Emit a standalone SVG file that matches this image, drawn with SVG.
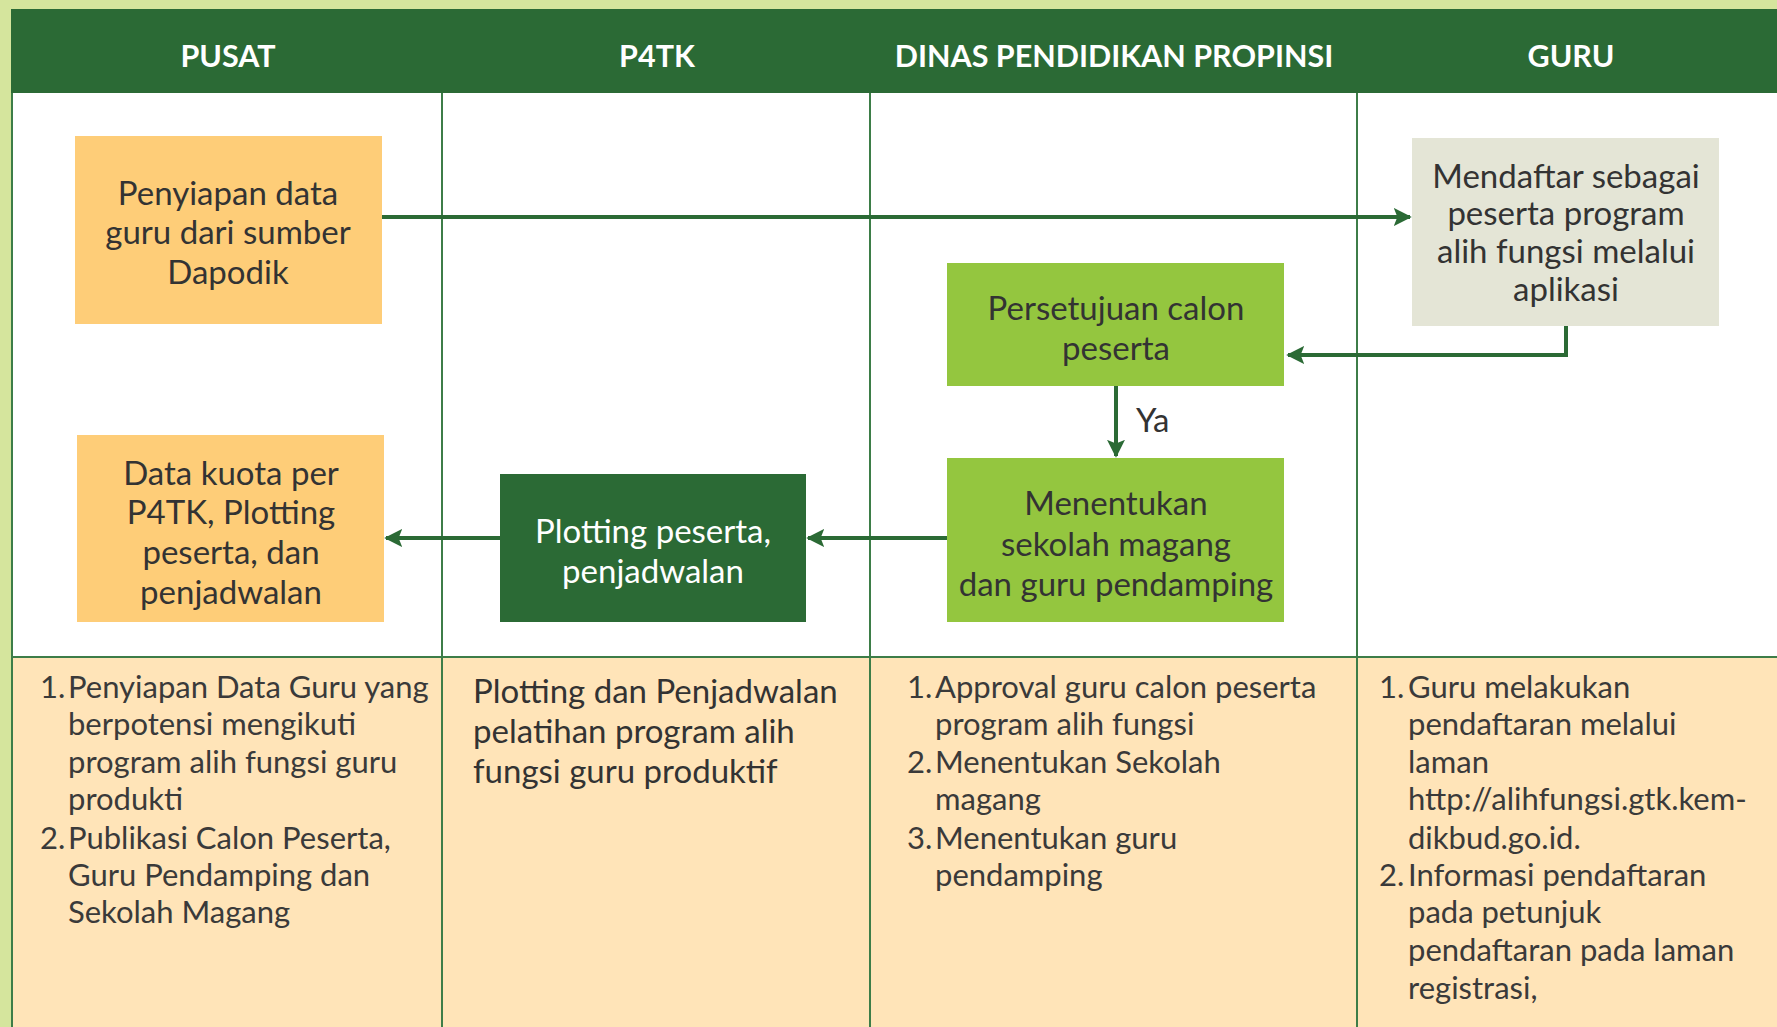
<svg xmlns="http://www.w3.org/2000/svg" width="1777" height="1027" viewBox="0 0 1777 1027">
<defs>
<style>
.hdr{font-family:Lato,"Liberation Sans",sans-serif;font-weight:700;font-size:30.5px;fill:#ffffff;text-anchor:middle}
.bx{font-family:Lato,"Liberation Sans",sans-serif;font-size:33px;fill:#333333;text-anchor:middle}
.bxw{font-family:Lato,"Liberation Sans",sans-serif;font-size:33px;fill:#ffffff;text-anchor:middle}
.nt{font-family:Lato,"Liberation Sans",sans-serif;font-size:31px;fill:#3a3a3a}
.nt2{font-family:Lato,"Liberation Sans",sans-serif;font-size:33px;fill:#333333}
.lane{stroke:#3d7d48;stroke-width:2;fill:none}
.con{stroke:#2b6a35;stroke-width:4;fill:none}
</style>
<marker id="ah" viewBox="0 0 10 10" refX="9" refY="5" markerWidth="4.5" markerHeight="4.5" orient="auto" markerUnits="strokeWidth">
<path d="M0,0 L10,5 L0,10 L2,5 Z" fill="#2b6a35"/>
</marker>
</defs>
<rect x="0" y="0" width="1777" height="1027" fill="#d5e59d"/>
<rect x="11" y="93" width="1766" height="564" fill="#ffffff"/>
<rect x="11" y="657" width="1766" height="370" fill="#ffe4b8"/>
<rect id="header" x="11" y="9" width="1766" height="84" fill="#2b6a35"/>
<g id="lanes">
<line class="lane" x1="442" y1="93" x2="442" y2="1027"/>
<line class="lane" x1="870" y1="93" x2="870" y2="1027"/>
<line class="lane" x1="1357" y1="93" x2="1357" y2="1027"/>
<line class="lane" x1="11" y1="657" x2="1777" y2="657"/>
<line class="lane" x1="12" y1="93" x2="12" y2="1027"/>
</g>
<g id="titles">
<text class="hdr" x="228" y="67">PUSAT</text>
<text class="hdr" x="657" y="67">P4TK</text>
<text class="hdr" x="1114" y="67">DINAS PENDIDIKAN PROPINSI</text>
<text class="hdr" x="1571" y="67">GURU</text>
</g>
<g id="connectors">
<line class="con" x1="382" y1="217" x2="1410" y2="217" marker-end="url(#ah)"/>
<polyline class="con" points="1566,326 1566,355 1288,355" marker-end="url(#ah)"/>
<line class="con" x1="1116" y1="386" x2="1116" y2="456" marker-end="url(#ah)"/>
<line class="con" x1="947" y1="538" x2="808" y2="538" marker-end="url(#ah)"/>
<line class="con" x1="500" y1="538" x2="386" y2="538" marker-end="url(#ah)"/>
<text class="bx" x="1136" y="432" style="text-anchor:start">Ya</text>
</g>
<g id="node-penyiapan">
<rect x="75" y="136" width="307" height="188" fill="#fecd78"/>
<text class="bx" x="228" y="205">Penyiapan data</text>
<text class="bx" x="228" y="244">guru dari sumber</text>
<text class="bx" x="228" y="284">Dapodik</text>
</g>
<g id="node-mendaftar">
<rect x="1412" y="138" width="307" height="188" fill="#e4e5d6"/>
<text class="bx" x="1566" y="188">Mendaftar sebagai</text>
<text class="bx" x="1566" y="225">peserta program</text>
<text class="bx" x="1566" y="263">alih fungsi melalui</text>
<text class="bx" x="1566" y="301">aplikasi</text>
</g>
<g id="node-persetujuan">
<rect x="947" y="263" width="337" height="123" fill="#94c63f"/>
<text class="bx" x="1116" y="320">Persetujuan calon</text>
<text class="bx" x="1116" y="360">peserta</text>
</g>
<g id="node-menentukan">
<rect x="947" y="458" width="337" height="164" fill="#94c63f"/>
<text class="bx" x="1116" y="515">Menentukan</text>
<text class="bx" x="1116" y="556">sekolah magang</text>
<text class="bx" x="1116" y="596">dan guru pendamping</text>
</g>
<g id="node-plotting">
<rect x="500" y="474" width="306" height="148" fill="#2b6a35"/>
<text class="bxw" x="653" y="543">Plotting peserta,</text>
<text class="bxw" x="653" y="583">penjadwalan</text>
</g>
<g id="node-datakuota">
<rect x="77" y="435" width="307" height="187" fill="#fecd78"/>
<text class="bx" x="231" y="485">Data kuota per</text>
<text class="bx" x="231" y="524">P4TK, Plotting</text>
<text class="bx" x="231" y="564">peserta, dan</text>
<text class="bx" x="231" y="604">penjadwalan</text>
</g>
<g id="notes-pusat">
<text class="nt" x="40" y="698">1.</text>
<text class="nt" x="68" y="698">Penyiapan Data Guru yang</text>
<text class="nt" x="68" y="735">berpotensi mengikuti</text>
<text class="nt" x="68" y="773">program alih fungsi guru</text>
<text class="nt" x="68" y="810">produkti</text>
<text class="nt" x="40" y="849">2.</text>
<text class="nt" x="68" y="849">Publikasi  Calon Peserta,</text>
<text class="nt" x="68" y="886">Guru Pendamping dan</text>
<text class="nt" x="68" y="923">Sekolah Magang</text>
</g>
<g id="notes-p4tk">
<text class="nt2" x="473" y="703">Plotting dan Penjadwalan</text>
<text class="nt2" x="473" y="743">pelatihan program alih</text>
<text class="nt2" x="473" y="783">fungsi guru produktif</text>
</g>
<g id="notes-dinas">
<text class="nt" x="907" y="698">1.</text>
<text class="nt" x="935" y="698">Approval guru calon peserta</text>
<text class="nt" x="935" y="735">program alih fungsi</text>
<text class="nt" x="907" y="773">2.</text>
<text class="nt" x="935" y="773">Menentukan Sekolah</text>
<text class="nt" x="935" y="810">magang</text>
<text class="nt" x="907" y="849">3.</text>
<text class="nt" x="935" y="849">Menentukan guru</text>
<text class="nt" x="935" y="886">pendamping</text>
</g>
<g id="notes-guru">
<text class="nt" x="1379" y="698">1.</text>
<text class="nt" x="1408" y="698">Guru melakukan</text>
<text class="nt" x="1408" y="735">pendaftaran melalui</text>
<text class="nt" x="1408" y="773">laman</text>
<text class="nt" x="1408" y="810">http://alihfungsi.gtk.kem-</text>
<text class="nt" x="1408" y="849">dikbud.go.id.</text>
<text class="nt" x="1379" y="886">2.</text>
<text class="nt" x="1408" y="886">Informasi pendaftaran</text>
<text class="nt" x="1408" y="923">pada petunjuk</text>
<text class="nt" x="1408" y="961">pendaftaran pada laman</text>
<text class="nt" x="1408" y="999">registrasi,</text>
</g>
</svg>
